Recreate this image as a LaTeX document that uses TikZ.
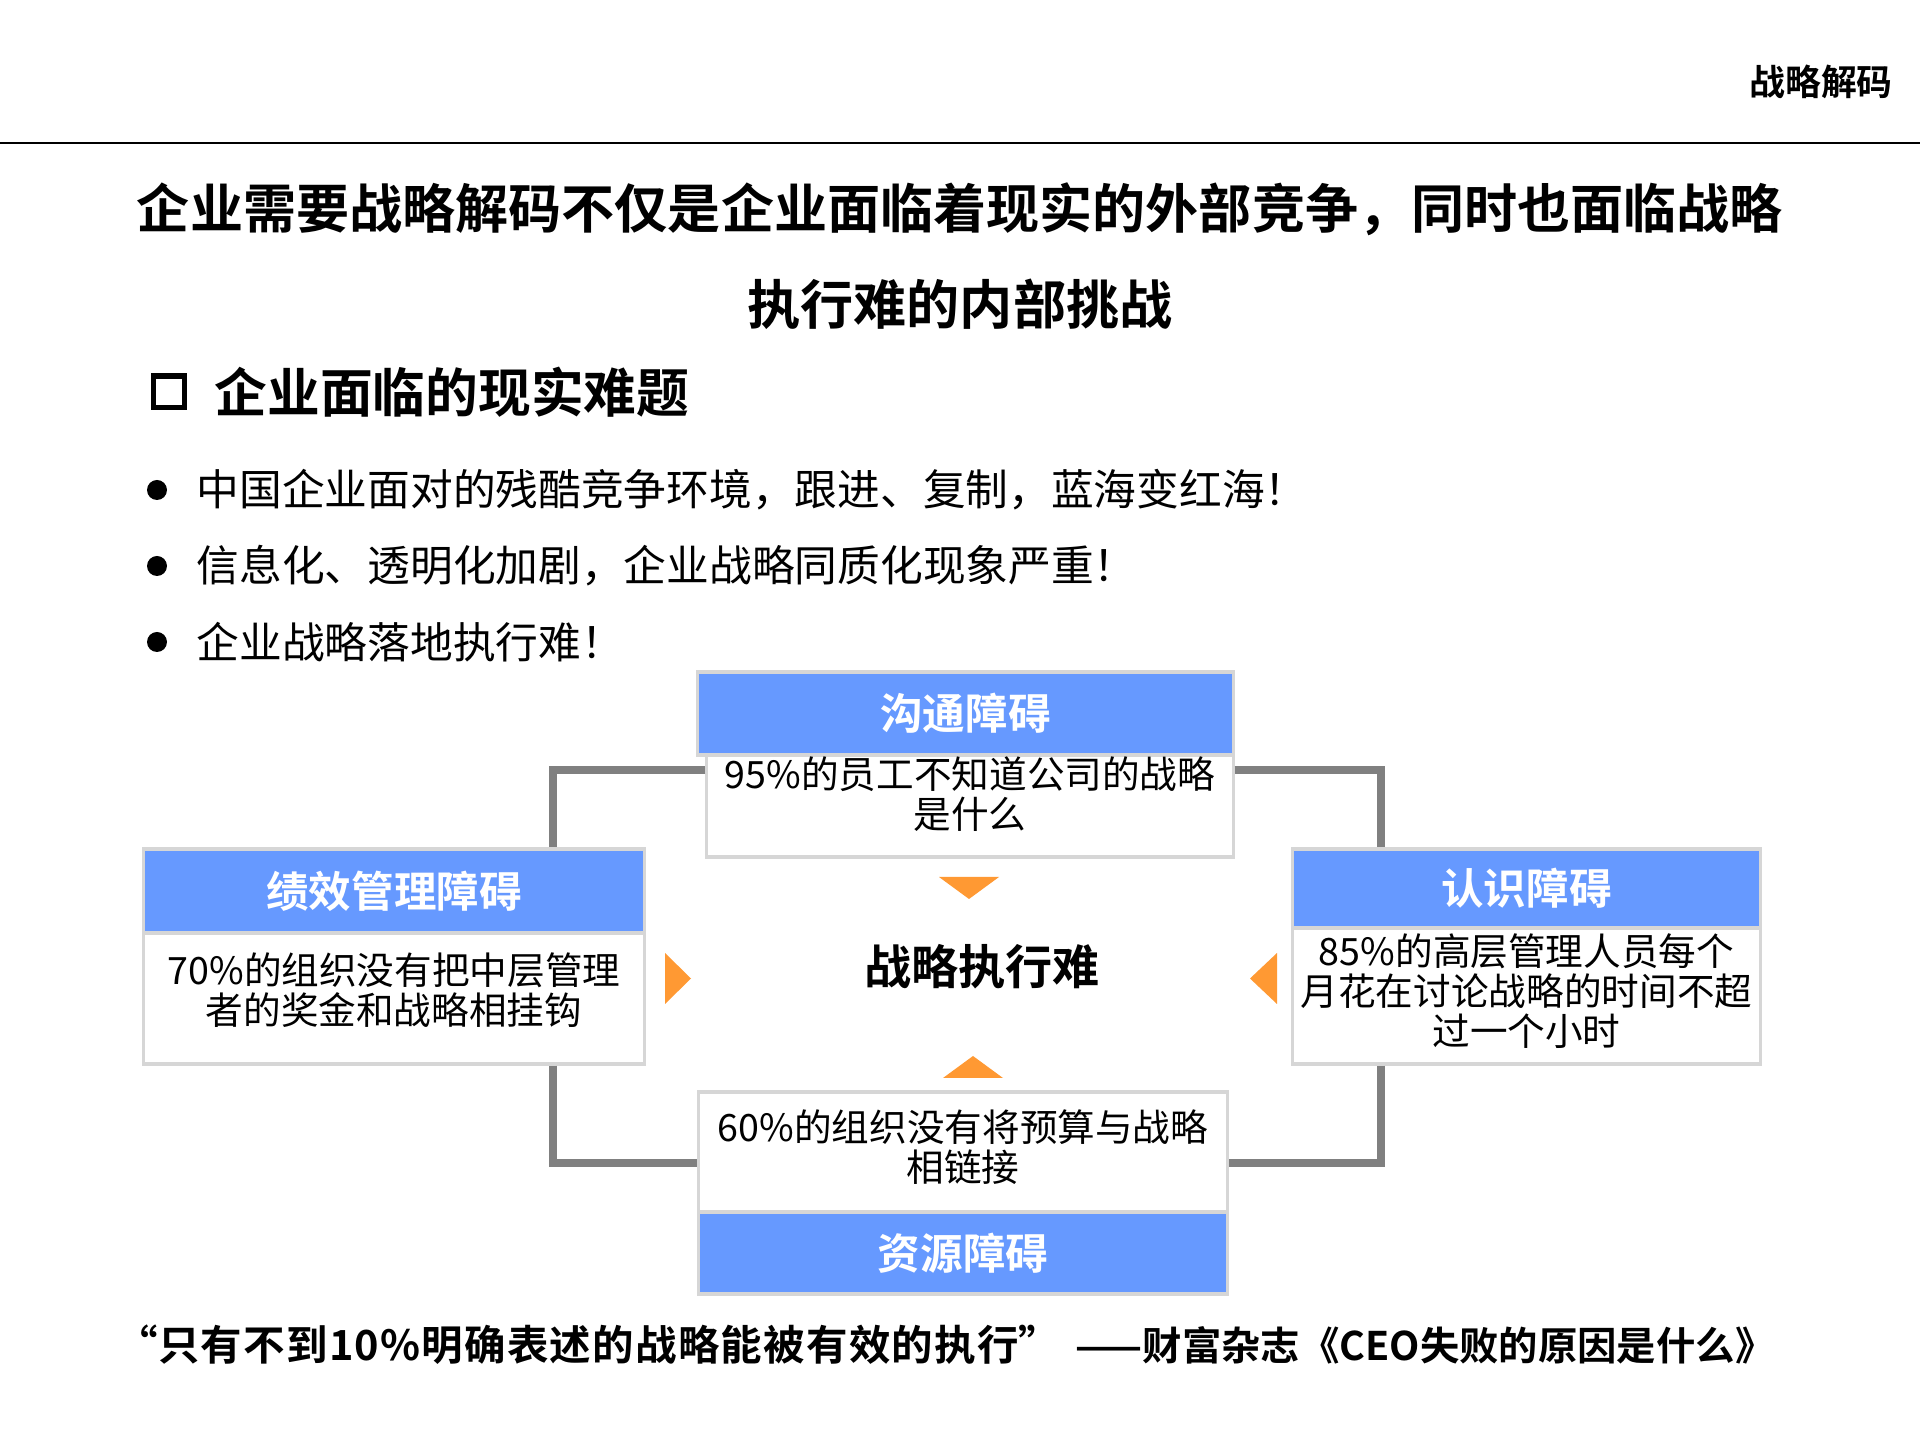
\documentclass[tikz,border=0pt]{standalone}
\usepackage{fontspec}
\setmainfont{Noto Sans CJK SC}[BoldFont={Noto Sans CJK SC Bold}]
\usetikzlibrary{calc}
\definecolor{headblue}{HTML}{6699FF}
\definecolor{arroworange}{HTML}{FF9933}
\definecolor{linegray}{HTML}{808080}
\definecolor{framegray}{HTML}{D6D6D6}

\begin{document}
\begin{tikzpicture}[x=0.01cm, y=-0.01cm,
    headbox/.style={fill=headblue, draw=framegray, line width=0.9pt, text=white,
        font=\bfseries\fontsize{12.1}{13}\selectfont, inner sep=0pt},
    bodybox/.style={fill=white, draw=framegray, line width=0.9pt, inner sep=0pt},
    bodytext/.style={align=center, font=\fontsize{10.7}{11.4}\selectfont, inner sep=0pt},
    bullettext/.style={anchor=west, font=\fontsize{12.15}{14}\selectfont, inner sep=0pt},
    link/.style={draw=linegray, line width=2pt},
    pointer/.style={fill=arroworange}]

    \useasboundingbox (0,0) rectangle (1920,1440);

    % Page header
    \draw[line width=0.8pt] (0,143) -- (1920,143);
    \node[font=\bfseries\fontsize{10.2}{12}\selectfont] (corner) at (1821,82) {战略解码};

    % Title
    \node[font=\bfseries\fontsize{15.1}{27.3}\selectfont, align=center] (title) at (960,256)
        {企业需要战略解码不仅是企业面临着现实的外部竞争，同时也面临战略\\执行难的内部挑战};

    % Section heading
    \node[draw, line width=1.7pt, minimum size=0.31cm, inner sep=0pt] (sqmark) at (169,392) {};
    \node[anchor=west, inner sep=0pt, font=\bfseries\fontsize{15}{18}\selectfont] (section) at (214,392) {企业面临的现实难题};

    % Bullet points
    \fill (157,490) circle (10);
    \node[bullettext] (pointa) at (196,490) {中国企业面对的残酷竞争环境，跟进、复制，蓝海变红海！};
    \fill (157,566) circle (10);
    \node[bullettext] (pointb) at (196,566) {信息化、透明化加剧，企业战略同质化现象严重！};
    \fill (157,642) circle (10);
    \node[bullettext] (pointc) at (196,642) {企业战略落地执行难！};

    % Top box
    \node[bodybox, minimum width=5.26cm, minimum height=1.02cm] (commbody) at (970,806) {};
    \node[headbox, minimum width=5.35cm, minimum height=0.83cm] (commhead) at (965.5,713.5) {沟通障碍};
    \node[bodytext] (commtext) at (970,794) {95\%的员工不知道公司的战略\\是什么};

    % Left box
    \node[bodybox, minimum width=5cm, minimum height=1.31cm] (perfbody) at (394,998.5) {};
    \node[headbox, minimum width=5cm, minimum height=0.84cm] (perfhead) at (394,891) {绩效管理障碍};
    \node[bodytext] (perftext) at (394,990) {70\%的组织没有把中层管理\\者的奖金和战略相挂钩};

    % Right box
    \node[bodybox, minimum width=4.67cm, minimum height=1.36cm] (viewbody) at (1526.5,996) {};
    \node[headbox, minimum width=4.67cm, minimum height=0.79cm] (viewhead) at (1526.5,888.5) {认识障碍};
    \node[bodytext] (viewtext) at (1526.5,991) {85\%的高层管理人员每个\\月花在讨论战略的时间不超\\过一个小时};

    % Bottom box
    \node[bodybox, minimum width=5.28cm, minimum height=1.2cm] (resbody) at (963,1152) {};
    \node[headbox, minimum width=5.28cm, minimum height=0.82cm] (reshead) at (963,1253) {资源障碍};
    \node[bodytext] (restext) at (963,1147) {60\%的组织没有将预算与战略\\相链接};

    % Connectors
    \coordinate (tlturn) at (553,770);
    \coordinate (trturn) at (1381,770);
    \coordinate (blturn) at (553,1163);
    \coordinate (brturn) at (1381,1163);
    \draw[link] (commbody.west |- tlturn) -- (tlturn) -- (tlturn |- perfhead.north);
    \draw[link] (commbody.east |- trturn) -- (trturn) -- (trturn |- viewhead.north);
    \draw[link] (perfbody.south -| blturn) -- (blturn) -- (resbody.west |- blturn);
    \draw[link] (viewbody.south -| brturn) -- (brturn) -- (resbody.east |- brturn);

    % Orange pointers
    \fill[pointer] (939,877) -- (999,877) -- (969,899) -- cycle;
    \fill[pointer] (943,1078) -- (1003,1078) -- (973,1056) -- cycle;
    \fill[pointer] (665,953) -- (665,1004) -- (691,978.5) -- cycle;
    \fill[pointer] (1277,953) -- (1277,1004) -- (1250,978.5) -- cycle;

    % Centre
    \node[font=\bfseries\fontsize{13.4}{16}\selectfont] (core) at (982,967) {战略执行难};

    % Quote
    \node[anchor=west, inner sep=0pt, font=\bfseries\fontsize{11.8}{13}\selectfont\addfontfeatures{LetterSpace=3}] (quote) at (120,1345)
        {\makebox[0.9em][r]{“}只有不到10\%明确表述的战略能被有效的执行\makebox[0.9em][l]{”}};
    \node[anchor=west, inner sep=0pt, font=\bfseries\fontsize{11.2}{13}\selectfont] (source) at (1075,1345)
        {——财富杂志《CEO失败的原因是什么》};
\end{tikzpicture}
\end{document}
